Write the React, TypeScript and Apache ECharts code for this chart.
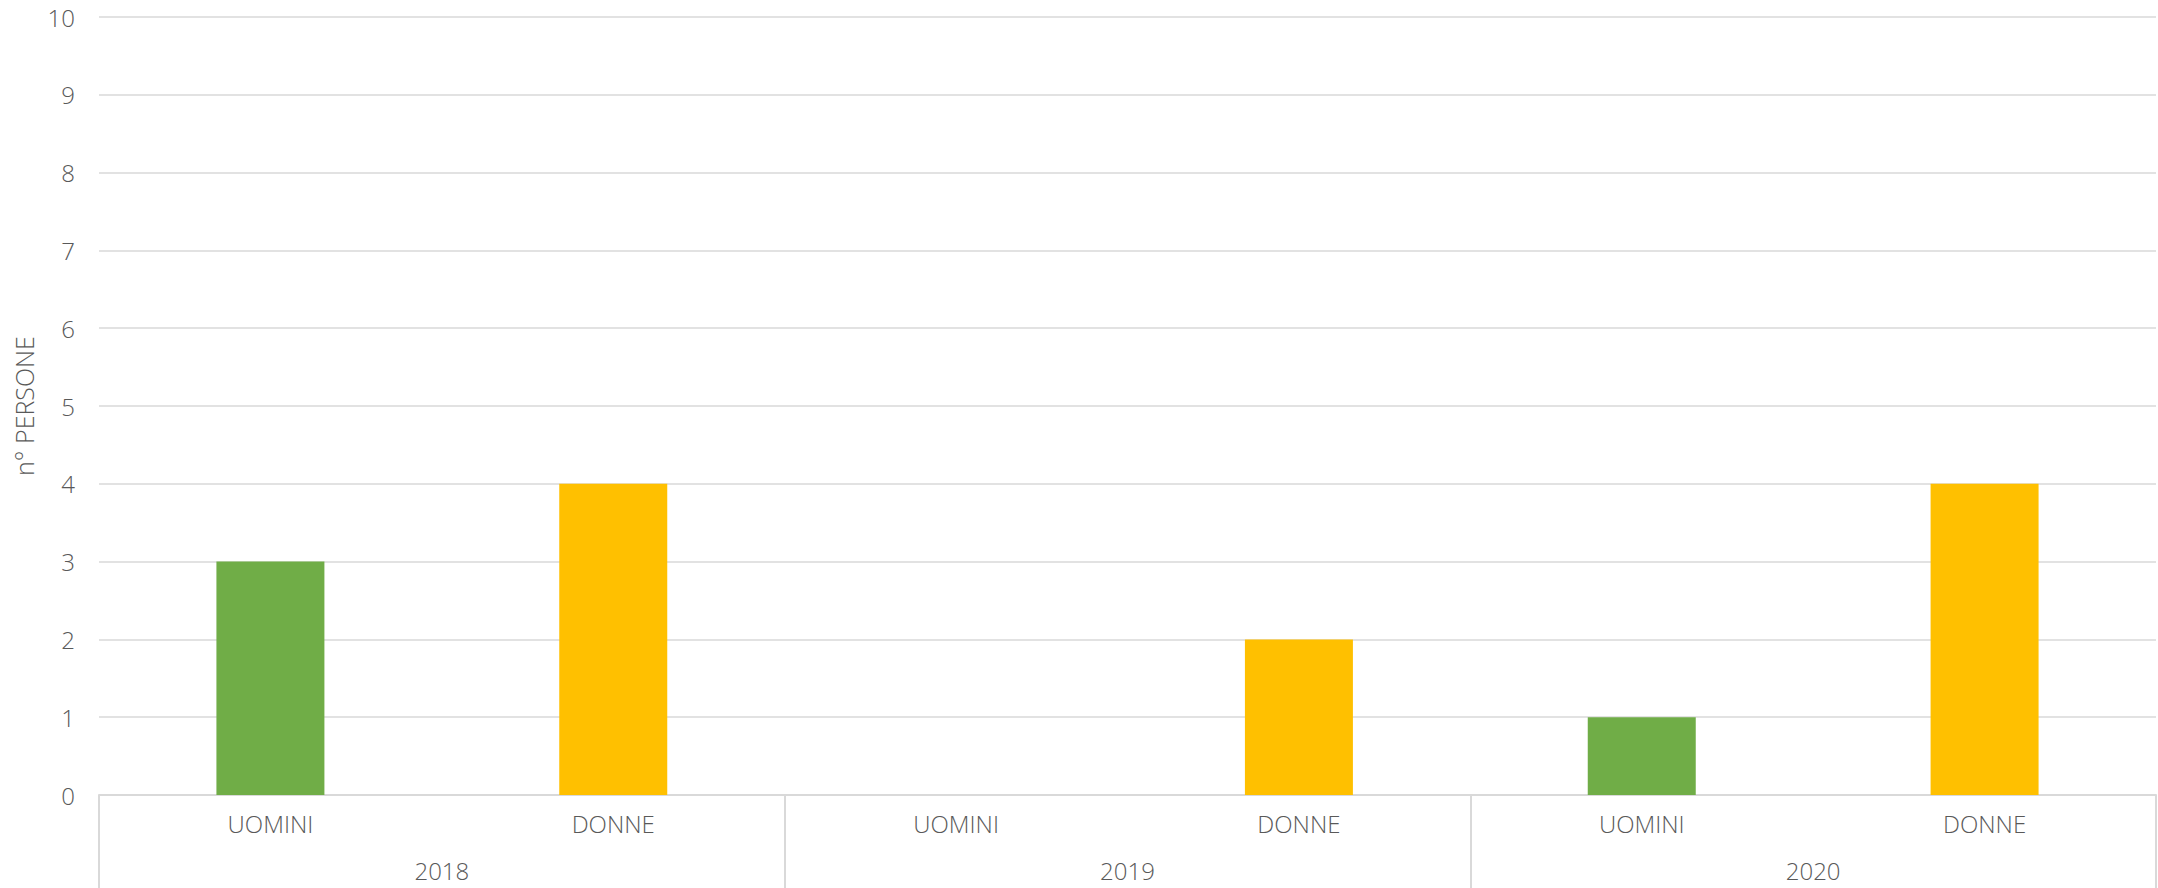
import React, { useEffect, useRef } from "react";
import * as echarts from "echarts";

const years = ["2018", "2019", "2020"];
const genders = ["UOMINI", "DONNE"];
const uomini = [3, 0, 1];
const donne = [4, 2, 4];
const yTicks = { min: 0, max: 10, interval: 1 };
const axisTitle = "n° PERSONE";

const GREEN = "#70AD47";
const YELLOW = "#FFC000";
const TEXT = "#595959";
const GRID = "#d9d9d9";
const FONT = "'Open Sans', sans-serif";
const WEIGHT = 300;

export default function App() {
  const ref = useRef<HTMLDivElement>(null);
  useEffect(() => {
    if (!ref.current) return;
    const chart = echarts.init(ref.current, null, { renderer: "svg" });
    const cats: string[] = [];
    const uData: (number | string)[] = [];
    const dData: (number | string)[] = [];
    years.forEach((_, i) => {
      cats.push(genders[0]);
      uData.push(uomini[i]);
      dData.push("-");
      cats.push(genders[1]);
      uData.push("-");
      dData.push(donne[i]);
    });
    const txt = { color: TEXT, fontFamily: FONT, fontWeight: WEIGHT, fontSize: 24 };
    chart.setOption({
      animation: false,
      grid: { left: 99, right: 2, top: 17, bottom: 93, containLabel: false },
      xAxis: [
        {
          type: "category",
          data: cats,
          position: "bottom",
          axisLine: { show: true, lineStyle: { color: GRID, width: 2 } },
          axisTick: { show: false },
          axisLabel: { ...txt, margin: 16, interval: 0 },
        },
        {
          type: "category",
          data: years,
          position: "bottom",
          axisLine: { show: false },
          axisTick: {
            show: true,
            length: 100,
            lineStyle: { color: GRID, width: 2 },
          },
          axisLabel: { ...txt, margin: 63, interval: 0 },
        },
      ],
      yAxis: {
        type: "value",
        min: yTicks.min,
        max: yTicks.max,
        interval: yTicks.interval,
        name: axisTitle,
        nameLocation: "middle",
        nameGap: 56,
        nameTextStyle: { ...txt, fontSize: 25 },
        axisLine: { show: false },
        axisTick: { show: false },
        axisLabel: { ...txt, margin: 24 },
        splitLine: { lineStyle: { color: GRID, width: 1.5 } },
      },
      series: [
        {
          name: genders[0],
          type: "bar",
          stack: "all",
          xAxisIndex: 0,
          data: uData,
          barWidth: "31.5%",
          itemStyle: { color: GREEN },
        },
        {
          name: genders[1],
          type: "bar",
          stack: "all",
          xAxisIndex: 0,
          data: dData,
          barWidth: "31.5%",
          itemStyle: { color: YELLOW },
        },
      ],
    });
    return () => chart.dispose();
  }, []);
  return (
    <div
      ref={ref}
      style={{ position: "fixed", left: 0, top: 0, width: 2158, height: 888, background: "#fff" }}
    />
  );
}
